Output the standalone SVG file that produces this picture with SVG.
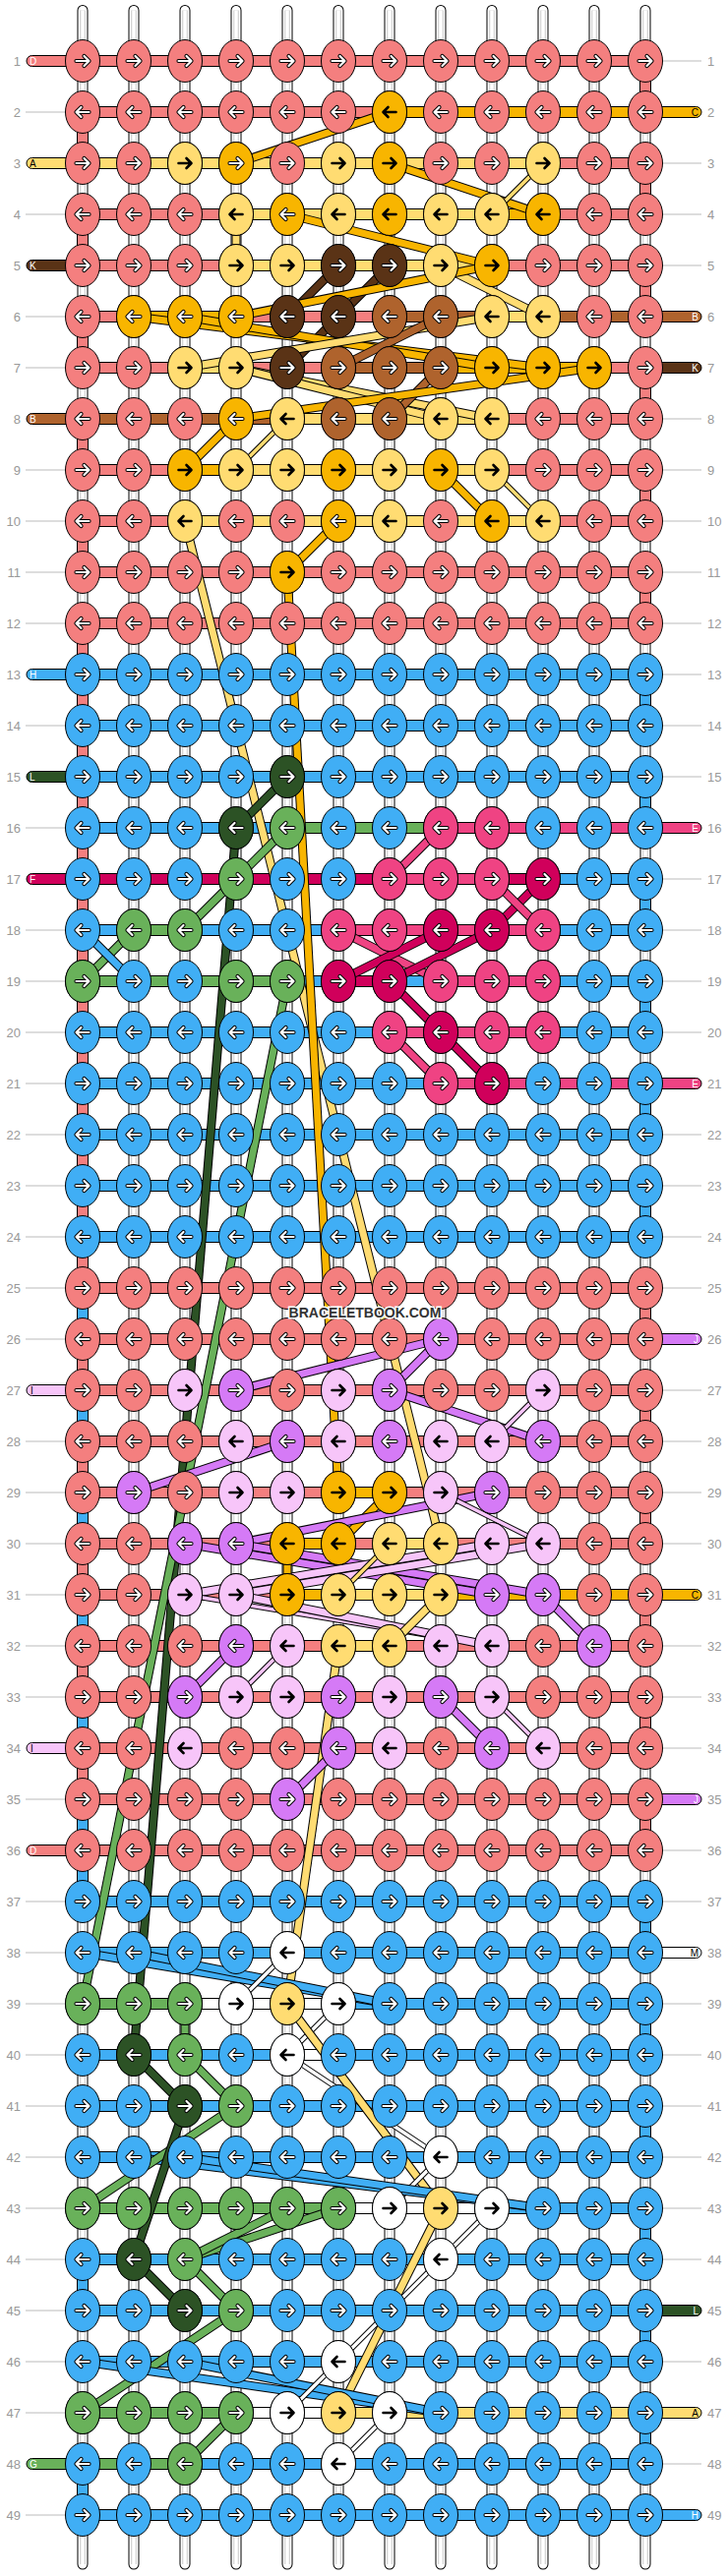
<svg xmlns="http://www.w3.org/2000/svg" width="740" height="2620" viewBox="0 0 740 2620">
<style>
.e{stroke:#000;stroke-width:1}
.P{fill:#F47F7F}.O{fill:#F8B500}.K{fill:#5A3316}.N{fill:#AF632D}.Y{fill:#FFDC72}.U{fill:#40AEF5}.G{fill:#69B15A}.D{fill:#2C5225}.H{fill:#EF4383}.F{fill:#D0005B}.V{fill:#D57AF6}.L{fill:#F7C5F9}.W{fill:#FFFFFF}
.n{font-family:"Liberation Sans",Arial,sans-serif;font-size:13px;fill:#999}
.nl{text-anchor:end}
.lb{font-family:"Liberation Sans",Arial,sans-serif;font-size:10px}
.gl{stroke:#bbb;stroke-width:1;fill:none}
.a{stroke:#000;stroke-width:9}
.b{stroke:#000;stroke-width:5.5}
.x{stroke-width:7}
.y{stroke-width:3.5}
.cO{stroke:#F8B500}.cY{stroke:#FFDC72}.cK{stroke:#5A3316}.cN{stroke:#AF632D}.cU{stroke:#40AEF5}.cG{stroke:#69B15A}.cD{stroke:#2C5225}.cH{stroke:#EF4383}.cF{stroke:#D0005B}.cV{stroke:#D57AF6}.cL{stroke:#F7C5F9}.cW{stroke:#FFFFFF}
.ar{fill:none;stroke-linecap:round;stroke-linejoin:round}
</style>
<defs>
<path id="pR" d="M-6.5,0H6M1.5,-5L6.5,0L1.5,5"/>
<path id="pL" d="M6.5,0H-6M-1.5,-5L-6.5,0L-1.5,5"/>
<g id="wR" class="ar"><use href="#pR" stroke="#000" stroke-width="4.2"/><use href="#pR" stroke="#fff" stroke-width="2.2"/></g>
<g id="wL" class="ar"><use href="#pL" stroke="#000" stroke-width="4.2"/><use href="#pL" stroke="#fff" stroke-width="2.2"/></g>
<g id="kR" class="ar"><use href="#pR" stroke="#000" stroke-width="2.6"/></g>
<g id="kL" class="ar"><use href="#pL" stroke="#000" stroke-width="2.6"/></g>
<g id="P1"><ellipse class="e P" rx="17.5" ry="21.5"/><use href="#wR"/></g>
<g id="P2"><ellipse class="e P" rx="17.5" ry="21.5"/><use href="#wL"/></g>
<g id="Q1"><ellipse class="e O" rx="17.5" ry="21.5"/><use href="#wR"/></g>
<g id="Q2"><ellipse class="e O" rx="17.5" ry="21.5"/><use href="#wL"/></g>
<g id="O1"><ellipse class="e O" rx="17.5" ry="21.5"/><use href="#kR"/></g>
<g id="O2"><ellipse class="e O" rx="17.5" ry="21.5"/><use href="#kL"/></g>
<g id="K1"><ellipse class="e K" rx="17.5" ry="21.5"/><use href="#wR"/></g>
<g id="K2"><ellipse class="e K" rx="17.5" ry="21.5"/><use href="#wL"/></g>
<g id="N1"><ellipse class="e N" rx="17.5" ry="21.5"/><use href="#wR"/></g>
<g id="N2"><ellipse class="e N" rx="17.5" ry="21.5"/><use href="#wL"/></g>
<g id="Y1"><ellipse class="e Y" rx="17.5" ry="21.5"/><use href="#kR"/></g>
<g id="Y2"><ellipse class="e Y" rx="17.5" ry="21.5"/><use href="#kL"/></g>
<g id="U1"><ellipse class="e U" rx="17.5" ry="21.5"/><use href="#wR"/></g>
<g id="U2"><ellipse class="e U" rx="17.5" ry="21.5"/><use href="#wL"/></g>
<g id="G1"><ellipse class="e G" rx="17.5" ry="21.5"/><use href="#wR"/></g>
<g id="G2"><ellipse class="e G" rx="17.5" ry="21.5"/><use href="#wL"/></g>
<g id="D1"><ellipse class="e D" rx="17.5" ry="21.5"/><use href="#wR"/></g>
<g id="D2"><ellipse class="e D" rx="17.5" ry="21.5"/><use href="#wL"/></g>
<g id="H1"><ellipse class="e H" rx="17.5" ry="21.5"/><use href="#wR"/></g>
<g id="H2"><ellipse class="e H" rx="17.5" ry="21.5"/><use href="#wL"/></g>
<g id="F1"><ellipse class="e F" rx="17.5" ry="21.5"/><use href="#wR"/></g>
<g id="F2"><ellipse class="e F" rx="17.5" ry="21.5"/><use href="#wL"/></g>
<g id="V1"><ellipse class="e V" rx="17.5" ry="21.5"/><use href="#wR"/></g>
<g id="V2"><ellipse class="e V" rx="17.5" ry="21.5"/><use href="#wL"/></g>
<g id="L1"><ellipse class="e L" rx="17.5" ry="21.5"/><use href="#kR"/></g>
<g id="L2"><ellipse class="e L" rx="17.5" ry="21.5"/><use href="#kL"/></g>
<g id="W1"><ellipse class="e W" rx="17.5" ry="21.5"/><use href="#kR"/></g>
<g id="W2"><ellipse class="e W" rx="17.5" ry="21.5"/><use href="#kL"/></g>
<g id="RP1"><use href="#P1" x="84"/><use href="#P1" x="136"/><use href="#P1" x="188"/><use href="#P1" x="240"/><use href="#P1" x="292"/><use href="#P1" x="344"/><use href="#P1" x="396"/><use href="#P1" x="448"/><use href="#P1" x="500"/><use href="#P1" x="552"/><use href="#P1" x="604"/><use href="#P1" x="656"/></g>
<g id="RP2"><use href="#P2" x="84"/><use href="#P2" x="136"/><use href="#P2" x="188"/><use href="#P2" x="240"/><use href="#P2" x="292"/><use href="#P2" x="344"/><use href="#P2" x="396"/><use href="#P2" x="448"/><use href="#P2" x="500"/><use href="#P2" x="552"/><use href="#P2" x="604"/><use href="#P2" x="656"/></g>
<g id="RU1"><use href="#U1" x="84"/><use href="#U1" x="136"/><use href="#U1" x="188"/><use href="#U1" x="240"/><use href="#U1" x="292"/><use href="#U1" x="344"/><use href="#U1" x="396"/><use href="#U1" x="448"/><use href="#U1" x="500"/><use href="#U1" x="552"/><use href="#U1" x="604"/><use href="#U1" x="656"/></g>
<g id="RU2"><use href="#U2" x="84"/><use href="#U2" x="136"/><use href="#U2" x="188"/><use href="#U2" x="240"/><use href="#U2" x="292"/><use href="#U2" x="344"/><use href="#U2" x="396"/><use href="#U2" x="448"/><use href="#U2" x="500"/><use href="#U2" x="552"/><use href="#U2" x="604"/><use href="#U2" x="656"/></g>
<rect id="bP" class="e P" x="84" y="-5.5" width="572" height="11"/>
<rect id="bU" class="e U" x="84" y="-5.5" width="572" height="11"/>
<path id="gL" class="gl" d="M26,0H66"/>
<path id="gR" class="gl" d="M674,0H713"/>
<path id="str" d="M84,10.5V2608M136,10.5V2608M188,10.5V2608M240,10.5V2608M292,10.5V2608M344,10.5V2608M396,10.5V2608M448,10.5V2608M500,10.5V2608M552,10.5V2608M604,10.5V2608M656,10.5V2608"/>
</defs>

<g id="strings" fill="none">
<use href="#str" stroke="#000" stroke-width="11" stroke-linecap="round"/>
<use href="#str" stroke="#fff" stroke-width="9" stroke-linecap="round"/>
<use href="#str" stroke="#c8c8c8" stroke-width="5.5"/>
<use href="#str" stroke="#fff" stroke-width="3.5"/>
</g>

<g id="edges" class="e">
<rect class="P" x="78.5" y="114" width="11" height="52"/>
<rect class="P" x="78.5" y="218" width="11" height="52"/>
<rect class="P" x="78.5" y="322" width="11" height="52"/>
<rect class="P" x="78.5" y="426" width="11" height="52"/>
<rect class="P" x="78.5" y="530" width="11" height="52"/>
<rect class="P" x="78.5" y="634" width="11" height="676"/>
<rect class="U" x="78.5" y="1310" width="11" height="52"/>
<rect class="P" x="78.5" y="1362" width="11" height="52"/>
<rect class="U" x="78.5" y="1414" width="11" height="52"/>
<rect class="P" x="78.5" y="1466" width="11" height="52"/>
<rect class="U" x="78.5" y="1518" width="11" height="52"/>
<rect class="P" x="78.5" y="1570" width="11" height="52"/>
<rect class="U" x="78.5" y="1622" width="11" height="52"/>
<rect class="P" x="78.5" y="1674" width="11" height="52"/>
<rect class="U" x="78.5" y="1726" width="11" height="52"/>
<rect class="P" x="78.5" y="1778" width="11" height="52"/>
<rect class="U" x="78.5" y="1830" width="11" height="104"/>
<rect class="U" x="78.5" y="2298" width="11" height="52"/>
<rect class="U" x="78.5" y="2506" width="11" height="52"/>
<rect class="P" x="650.5" y="62" width="11" height="52"/>
<rect class="P" x="650.5" y="166" width="11" height="52"/>
<rect class="P" x="650.5" y="270" width="11" height="52"/>
<rect class="P" x="650.5" y="374" width="11" height="52"/>
<rect class="P" x="650.5" y="478" width="11" height="52"/>
<rect class="P" x="650.5" y="582" width="11" height="52"/>
<rect class="U" x="650.5" y="686" width="11" height="52"/>
<rect class="U" x="650.5" y="790" width="11" height="52"/>
<rect class="U" x="650.5" y="894" width="11" height="52"/>
<rect class="U" x="650.5" y="998" width="11" height="52"/>
<rect class="U" x="650.5" y="1102" width="11" height="52"/>
<rect class="U" x="650.5" y="1206" width="11" height="52"/>
<rect class="P" x="650.5" y="1310" width="11" height="52"/>
<rect class="P" x="650.5" y="1414" width="11" height="52"/>
<rect class="P" x="650.5" y="1518" width="11" height="52"/>
<rect class="P" x="650.5" y="1622" width="11" height="52"/>
<rect class="P" x="650.5" y="1726" width="11" height="52"/>
<rect class="P" x="650.5" y="1830" width="11" height="52"/>
<rect class="U" x="650.5" y="1934" width="11" height="52"/>
<rect class="U" x="650.5" y="2038" width="11" height="52"/>
<rect class="U" x="650.5" y="2142" width="11" height="52"/>
<rect class="U" x="650.5" y="2246" width="11" height="52"/>
<rect class="U" x="650.5" y="2350" width="11" height="52"/>
<rect class="U" x="650.5" y="2454" width="11" height="52"/>
</g>

<g id="bars">
<g transform="translate(0,62)"><text class="n nl" x="21" y="4.5">1</text><text class="n" x="719" y="4.5">1</text><use href="#bP"/><rect class="e P" x="27" y="-5.5" width="60" height="11" rx="5.5"/><text class="lb" x="30" y="3.5" fill="#fff">D</text><use href="#gR"/></g>
<g transform="translate(0,114)"><text class="n nl" x="21" y="4.5">2</text><text class="n" x="719" y="4.5">2</text><use href="#bP"/><rect class="e O" x="396" y="-5.5" width="260" height="11"/><use href="#gL"/><rect class="e O" x="653" y="-5.5" width="60" height="11" rx="5.5"/><text class="lb" x="710" y="3.5" text-anchor="end">C</text></g>
<g transform="translate(0,166)"><text class="n nl" x="21" y="4.5">3</text><text class="n" x="719" y="4.5">3</text><use href="#bP"/><rect class="e Y" x="84" y="-5.5" width="468" height="11"/><rect class="e Y" x="27" y="-5.5" width="60" height="11" rx="5.5"/><text class="lb" x="30" y="3.5">A</text><use href="#gR"/></g>
<g transform="translate(0,218)"><text class="n nl" x="21" y="4.5">4</text><text class="n" x="719" y="4.5">4</text><use href="#bP"/><rect class="e Y" x="240" y="-5.5" width="260" height="11"/><rect class="e O" x="500" y="-5.5" width="52" height="11"/><use href="#gL"/><use href="#gR"/></g>
<g transform="translate(0,270)"><text class="n nl" x="21" y="4.5">5</text><text class="n" x="719" y="4.5">5</text><use href="#bP"/><rect class="e Y" x="240" y="-5.5" width="260" height="11"/><rect class="e K" x="27" y="-5.5" width="60" height="11" rx="5.5"/><text class="lb" x="30" y="3.5" fill="#fff">K</text><use href="#gR"/></g>
<g transform="translate(0,322)"><text class="n nl" x="21" y="4.5">6</text><text class="n" x="719" y="4.5">6</text><use href="#bP"/><rect class="e O" x="136" y="-5.5" width="104" height="11"/><rect class="e N" x="396" y="-5.5" width="104" height="11"/><rect class="e Y" x="500" y="-5.5" width="52" height="11"/><rect class="e N" x="552" y="-5.5" width="104" height="11"/><use href="#gL"/><rect class="e N" x="653" y="-5.5" width="60" height="11" rx="5.5"/><text class="lb" x="710" y="3.5" text-anchor="end" fill="#fff">B</text></g>
<g transform="translate(0,374)"><text class="n nl" x="21" y="4.5">7</text><text class="n" x="719" y="4.5">7</text><use href="#bP"/><rect class="e Y" x="188" y="-5.5" width="52" height="11"/><rect class="e N" x="344" y="-5.5" width="104" height="11"/><rect class="e O" x="448" y="-5.5" width="156" height="11"/><use href="#gL"/><rect class="e K" x="653" y="-5.5" width="60" height="11" rx="5.5"/><text class="lb" x="710" y="3.5" text-anchor="end" fill="#fff">K</text></g>
<g transform="translate(0,426)"><text class="n nl" x="21" y="4.5">8</text><text class="n" x="719" y="4.5">8</text><use href="#bP"/><rect class="e N" x="84" y="-5.5" width="208" height="11"/><rect class="e Y" x="292" y="-5.5" width="208" height="11"/><rect class="e N" x="27" y="-5.5" width="60" height="11" rx="5.5"/><text class="lb" x="30" y="3.5" fill="#fff">B</text><use href="#gR"/></g>
<g transform="translate(0,478)"><text class="n nl" x="21" y="4.5">9</text><text class="n" x="719" y="4.5">9</text><use href="#bP"/><rect class="e O" x="188" y="-5.5" width="52" height="11"/><rect class="e Y" x="240" y="-5.5" width="260" height="11"/><use href="#gL"/><use href="#gR"/></g>
<g transform="translate(0,530)"><text class="n nl" x="21" y="4.5">10</text><text class="n" x="719" y="4.5">10</text><use href="#bP"/><rect class="e Y" x="188" y="-5.5" width="364" height="11"/><use href="#gL"/><use href="#gR"/></g>
<g transform="translate(0,582)"><text class="n nl" x="21" y="4.5">11</text><text class="n" x="719" y="4.5">11</text><use href="#bP"/><use href="#gL"/><use href="#gR"/></g>
<g transform="translate(0,634)"><text class="n nl" x="21" y="4.5">12</text><text class="n" x="719" y="4.5">12</text><use href="#bP"/><use href="#gL"/><use href="#gR"/></g>
<g transform="translate(0,686)"><text class="n nl" x="21" y="4.5">13</text><text class="n" x="719" y="4.5">13</text><use href="#bU"/><rect class="e U" x="27" y="-5.5" width="60" height="11" rx="5.5"/><text class="lb" x="30" y="3.5" fill="#fff">H</text><use href="#gR"/></g>
<g transform="translate(0,738)"><text class="n nl" x="21" y="4.5">14</text><text class="n" x="719" y="4.5">14</text><use href="#bU"/><use href="#gL"/><use href="#gR"/></g>
<g transform="translate(0,790)"><text class="n nl" x="21" y="4.5">15</text><text class="n" x="719" y="4.5">15</text><use href="#bU"/><rect class="e D" x="27" y="-5.5" width="60" height="11" rx="5.5"/><text class="lb" x="30" y="3.5" fill="#fff">L</text><use href="#gR"/></g>
<g transform="translate(0,842)"><text class="n nl" x="21" y="4.5">16</text><text class="n" x="719" y="4.5">16</text><use href="#bU"/><rect class="e G" x="292" y="-5.5" width="156" height="11"/><rect class="e H" x="448" y="-5.5" width="208" height="11"/><use href="#gL"/><rect class="e H" x="653" y="-5.5" width="60" height="11" rx="5.5"/><text class="lb" x="710" y="3.5" text-anchor="end" fill="#fff">E</text></g>
<g transform="translate(0,894)"><text class="n nl" x="21" y="4.5">17</text><text class="n" x="719" y="4.5">17</text><use href="#bU"/><rect class="e F" x="84" y="-5.5" width="312" height="11"/><rect class="e H" x="396" y="-5.5" width="104" height="11"/><rect class="e F" x="500" y="-5.5" width="52" height="11"/><rect class="e F" x="27" y="-5.5" width="60" height="11" rx="5.5"/><text class="lb" x="30" y="3.5" fill="#fff">F</text><use href="#gR"/></g>
<g transform="translate(0,946)"><text class="n nl" x="21" y="4.5">18</text><text class="n" x="719" y="4.5">18</text><use href="#bU"/><rect class="e G" x="136" y="-5.5" width="52" height="11"/><rect class="e H" x="344" y="-5.5" width="208" height="11"/><use href="#gL"/><use href="#gR"/></g>
<g transform="translate(0,998)"><text class="n nl" x="21" y="4.5">19</text><text class="n" x="719" y="4.5">19</text><use href="#bU"/><rect class="e G" x="84" y="-5.5" width="208" height="11"/><rect class="e F" x="344" y="-5.5" width="52" height="11"/><rect class="e H" x="448" y="-5.5" width="104" height="11"/><use href="#gL"/><use href="#gR"/></g>
<g transform="translate(0,1050)"><text class="n nl" x="21" y="4.5">20</text><text class="n" x="719" y="4.5">20</text><use href="#bU"/><rect class="e H" x="396" y="-5.5" width="156" height="11"/><use href="#gL"/><use href="#gR"/></g>
<g transform="translate(0,1102)"><text class="n nl" x="21" y="4.5">21</text><text class="n" x="719" y="4.5">21</text><use href="#bU"/><rect class="e H" x="448" y="-5.5" width="208" height="11"/><use href="#gL"/><rect class="e H" x="653" y="-5.5" width="60" height="11" rx="5.5"/><text class="lb" x="710" y="3.5" text-anchor="end" fill="#fff">E</text></g>
<g transform="translate(0,1154)"><text class="n nl" x="21" y="4.5">22</text><text class="n" x="719" y="4.5">22</text><use href="#bU"/><use href="#gL"/><use href="#gR"/></g>
<g transform="translate(0,1206)"><text class="n nl" x="21" y="4.5">23</text><text class="n" x="719" y="4.5">23</text><use href="#bU"/><use href="#gL"/><use href="#gR"/></g>
<g transform="translate(0,1258)"><text class="n nl" x="21" y="4.5">24</text><text class="n" x="719" y="4.5">24</text><use href="#bU"/><use href="#gL"/><use href="#gR"/></g>
<g transform="translate(0,1310)"><text class="n nl" x="21" y="4.5">25</text><text class="n" x="719" y="4.5">25</text><use href="#bP"/><use href="#gL"/><use href="#gR"/></g>
<g transform="translate(0,1362)"><text class="n nl" x="21" y="4.5">26</text><text class="n" x="719" y="4.5">26</text><use href="#bP"/><use href="#gL"/><rect class="e V" x="653" y="-5.5" width="60" height="11" rx="5.5"/><text class="lb" x="710" y="3.5" text-anchor="end" fill="#fff">J</text></g>
<g transform="translate(0,1414)"><text class="n nl" x="21" y="4.5">27</text><text class="n" x="719" y="4.5">27</text><use href="#bP"/><rect class="e L" x="27" y="-5.5" width="60" height="11" rx="5.5"/><text class="lb" x="31" y="3.5">I</text><use href="#gR"/></g>
<g transform="translate(0,1466)"><text class="n nl" x="21" y="4.5">28</text><text class="n" x="719" y="4.5">28</text><use href="#bP"/><use href="#gL"/><use href="#gR"/></g>
<g transform="translate(0,1518)"><text class="n nl" x="21" y="4.5">29</text><text class="n" x="719" y="4.5">29</text><use href="#bP"/><rect class="e O" x="344" y="-5.5" width="52" height="11"/><use href="#gL"/><use href="#gR"/></g>
<g transform="translate(0,1570)"><text class="n nl" x="21" y="4.5">30</text><text class="n" x="719" y="4.5">30</text><use href="#bP"/><rect class="e O" x="292" y="-5.5" width="52" height="11"/><rect class="e Y" x="396" y="-5.5" width="52" height="11"/><use href="#gL"/><use href="#gR"/></g>
<g transform="translate(0,1622)"><text class="n nl" x="21" y="4.5">31</text><text class="n" x="719" y="4.5">31</text><use href="#bP"/><rect class="e O" x="292" y="-5.5" width="52" height="11"/><rect class="e Y" x="344" y="-5.5" width="104" height="11"/><rect class="e O" x="448" y="-5.5" width="208" height="11"/><use href="#gL"/><rect class="e O" x="653" y="-5.5" width="60" height="11" rx="5.5"/><text class="lb" x="710" y="3.5" text-anchor="end">C</text></g>
<g transform="translate(0,1674)"><text class="n nl" x="21" y="4.5">32</text><text class="n" x="719" y="4.5">32</text><use href="#bP"/><rect class="e Y" x="344" y="-5.5" width="52" height="11"/><use href="#gL"/><use href="#gR"/></g>
<g transform="translate(0,1726)"><text class="n nl" x="21" y="4.5">33</text><text class="n" x="719" y="4.5">33</text><use href="#bP"/><use href="#gL"/><use href="#gR"/></g>
<g transform="translate(0,1778)"><text class="n nl" x="21" y="4.5">34</text><text class="n" x="719" y="4.5">34</text><use href="#bP"/><rect class="e L" x="27" y="-5.5" width="60" height="11" rx="5.5"/><text class="lb" x="31" y="3.5">I</text><use href="#gR"/></g>
<g transform="translate(0,1830)"><text class="n nl" x="21" y="4.5">35</text><text class="n" x="719" y="4.5">35</text><use href="#bP"/><use href="#gL"/><rect class="e V" x="653" y="-5.5" width="60" height="11" rx="5.5"/><text class="lb" x="710" y="3.5" text-anchor="end" fill="#fff">J</text></g>
<g transform="translate(0,1882)"><text class="n nl" x="21" y="4.5">36</text><text class="n" x="719" y="4.5">36</text><use href="#bP"/><rect class="e P" x="27" y="-5.5" width="60" height="11" rx="5.5"/><text class="lb" x="30" y="3.5" fill="#fff">D</text><use href="#gR"/></g>
<g transform="translate(0,1934)"><text class="n nl" x="21" y="4.5">37</text><text class="n" x="719" y="4.5">37</text><use href="#bU"/><use href="#gL"/><use href="#gR"/></g>
<g transform="translate(0,1986)"><text class="n nl" x="21" y="4.5">38</text><text class="n" x="719" y="4.5">38</text><use href="#bU"/><use href="#gL"/><rect class="e W" x="653" y="-5.5" width="60" height="11" rx="5.5"/><text class="lb" x="710" y="3.5" text-anchor="end">M</text></g>
<g transform="translate(0,2038)"><text class="n nl" x="21" y="4.5">39</text><text class="n" x="719" y="4.5">39</text><use href="#bU"/><rect class="e G" x="84" y="-5.5" width="104" height="11"/><rect class="e W" x="188" y="-5.5" width="156" height="11"/><use href="#gL"/><use href="#gR"/></g>
<g transform="translate(0,2090)"><text class="n nl" x="21" y="4.5">40</text><text class="n" x="719" y="4.5">40</text><use href="#bU"/><rect class="e W" x="292" y="-5.5" width="52" height="11"/><use href="#gL"/><use href="#gR"/></g>
<g transform="translate(0,2142)"><text class="n nl" x="21" y="4.5">41</text><text class="n" x="719" y="4.5">41</text><use href="#bU"/><use href="#gL"/><use href="#gR"/></g>
<g transform="translate(0,2194)"><text class="n nl" x="21" y="4.5">42</text><text class="n" x="719" y="4.5">42</text><use href="#bU"/><use href="#gL"/><use href="#gR"/></g>
<g transform="translate(0,2246)"><text class="n nl" x="21" y="4.5">43</text><text class="n" x="719" y="4.5">43</text><use href="#bU"/><rect class="e G" x="84" y="-5.5" width="260" height="11"/><rect class="e W" x="344" y="-5.5" width="156" height="11"/><use href="#gL"/><use href="#gR"/></g>
<g transform="translate(0,2298)"><text class="n nl" x="21" y="4.5">44</text><text class="n" x="719" y="4.5">44</text><use href="#bU"/><use href="#gL"/><use href="#gR"/></g>
<g transform="translate(0,2350)"><text class="n nl" x="21" y="4.5">45</text><text class="n" x="719" y="4.5">45</text><use href="#bU"/><use href="#gL"/><rect class="e D" x="653" y="-5.5" width="60" height="11" rx="5.5"/><text class="lb" x="710" y="3.5" text-anchor="end" fill="#fff">L</text></g>
<g transform="translate(0,2402)"><text class="n nl" x="21" y="4.5">46</text><text class="n" x="719" y="4.5">46</text><use href="#bU"/><use href="#gL"/><use href="#gR"/></g>
<g transform="translate(0,2454)"><text class="n nl" x="21" y="4.5">47</text><text class="n" x="719" y="4.5">47</text><use href="#bU"/><rect class="e G" x="84" y="-5.5" width="156" height="11"/><rect class="e W" x="240" y="-5.5" width="104" height="11"/><rect class="e Y" x="344" y="-5.5" width="312" height="11"/><use href="#gL"/><rect class="e Y" x="653" y="-5.5" width="60" height="11" rx="5.5"/><text class="lb" x="710" y="3.5" text-anchor="end">A</text></g>
<g transform="translate(0,2506)"><text class="n nl" x="21" y="4.5">48</text><text class="n" x="719" y="4.5">48</text><use href="#bU"/><rect class="e G" x="84" y="-5.5" width="104" height="11"/><rect class="e G" x="27" y="-5.5" width="60" height="11" rx="5.5"/><text class="lb" x="30" y="3.5" fill="#fff">G</text><use href="#gR"/></g>
<g transform="translate(0,2558)"><text class="n nl" x="21" y="4.5">49</text><text class="n" x="719" y="4.5">49</text><use href="#bU"/><use href="#gL"/><rect class="e U" x="653" y="-5.5" width="60" height="11" rx="5.5"/><text class="lb" x="710" y="3.5" text-anchor="end" fill="#fff">H</text></g>
</g>

<g id="connectors">
<line class="a" x1="396" y1="114" x2="240" y2="166"/><line class="x cO" x1="396" y1="114" x2="240" y2="166"/>
<line class="a" x1="396" y1="166" x2="552" y2="218"/><line class="x cO" x1="396" y1="166" x2="552" y2="218"/>
<line class="b" x1="552" y1="166" x2="500" y2="218"/><line class="y cY" x1="552" y1="166" x2="500" y2="218"/>
<line class="a" x1="292" y1="218" x2="500" y2="270"/><line class="x cO" x1="292" y1="218" x2="500" y2="270"/>
<line class="a" x1="240" y1="218" x2="240" y2="270"/><line class="x cY" x1="240" y1="218" x2="240" y2="270"/>
<line class="a" x1="448" y1="270" x2="552" y2="322"/><line class="x cY" x1="448" y1="270" x2="552" y2="322"/>
<line class="a" x1="396" y1="270" x2="344" y2="322"/><line class="x cK" x1="396" y1="270" x2="344" y2="322"/>
<line class="a" x1="344" y1="270" x2="292" y2="322"/><line class="x cK" x1="344" y1="270" x2="292" y2="322"/>
<line class="a" x1="344" y1="322" x2="292" y2="374"/><line class="x cK" x1="344" y1="322" x2="292" y2="374"/>
<line class="a" x1="240" y1="322" x2="500" y2="270"/><line class="x cO" x1="240" y1="322" x2="500" y2="270"/>
<line class="a" x1="136" y1="322" x2="552" y2="374"/><line class="x cO" x1="136" y1="322" x2="552" y2="374"/>
<line class="a" x1="188" y1="322" x2="500" y2="374"/><line class="x cO" x1="188" y1="322" x2="500" y2="374"/>
<line class="a" x1="188" y1="374" x2="500" y2="322"/><line class="x cY" x1="188" y1="374" x2="500" y2="322"/>
<line class="a" x1="240" y1="374" x2="500" y2="426"/><line class="x cY" x1="240" y1="374" x2="500" y2="426"/>
<line class="a" x1="240" y1="374" x2="448" y2="426"/><line class="x cY" x1="240" y1="374" x2="448" y2="426"/>
<line class="a" x1="344" y1="374" x2="448" y2="322"/><line class="x cN" x1="344" y1="374" x2="448" y2="322"/>
<line class="a" x1="448" y1="374" x2="396" y2="426"/><line class="x cN" x1="448" y1="374" x2="396" y2="426"/>
<line class="a" x1="240" y1="426" x2="604" y2="374"/><line class="x cO" x1="240" y1="426" x2="604" y2="374"/>
<line class="a" x1="188" y1="478" x2="240" y2="426"/><line class="x cO" x1="188" y1="478" x2="240" y2="426"/>
<line class="b" x1="240" y1="478" x2="292" y2="426"/><line class="y cY" x1="240" y1="478" x2="292" y2="426"/>
<line class="a" x1="448" y1="478" x2="500" y2="530"/><line class="x cO" x1="448" y1="478" x2="500" y2="530"/>
<line class="b" x1="500" y1="478" x2="552" y2="530"/><line class="y cY" x1="500" y1="478" x2="552" y2="530"/>
<line class="a" x1="344" y1="530" x2="292" y2="582"/><line class="x cO" x1="344" y1="530" x2="292" y2="582"/>
<line class="a" x1="188" y1="530" x2="448" y2="1570"/><line class="x cY" x1="188" y1="530" x2="448" y2="1570"/>
<line class="a" x1="292" y1="582" x2="344" y2="1518"/><line class="x cO" x1="292" y1="582" x2="344" y2="1518"/>
<line class="a" x1="292" y1="790" x2="240" y2="842"/><line class="x cD" x1="292" y1="790" x2="240" y2="842"/>
<line class="a" x1="240" y1="842" x2="136" y2="2090"/><line class="x cD" x1="240" y1="842" x2="136" y2="2090"/>
<line class="a" x1="292" y1="842" x2="240" y2="894"/><line class="x cG" x1="292" y1="842" x2="240" y2="894"/>
<line class="a" x1="240" y1="894" x2="188" y2="946"/><line class="x cG" x1="240" y1="894" x2="188" y2="946"/>
<line class="a" x1="136" y1="946" x2="84" y2="998"/><line class="x cG" x1="136" y1="946" x2="84" y2="998"/>
<line class="a" x1="84" y1="946" x2="136" y2="998"/><line class="x cU" x1="84" y1="946" x2="136" y2="998"/>
<line class="a" x1="292" y1="998" x2="84" y2="2038"/><line class="x cG" x1="292" y1="998" x2="84" y2="2038"/>
<line class="a" x1="396" y1="894" x2="448" y2="842"/><line class="x cH" x1="396" y1="894" x2="448" y2="842"/>
<line class="a" x1="552" y1="894" x2="500" y2="946"/><line class="x cF" x1="552" y1="894" x2="500" y2="946"/>
<line class="a" x1="500" y1="894" x2="552" y2="946"/><line class="x cH" x1="500" y1="894" x2="552" y2="946"/>
<line class="a" x1="344" y1="946" x2="448" y2="998"/><line class="x cH" x1="344" y1="946" x2="448" y2="998"/>
<line class="a" x1="344" y1="998" x2="448" y2="946"/><line class="x cF" x1="344" y1="998" x2="448" y2="946"/>
<line class="a" x1="396" y1="998" x2="500" y2="946"/><line class="x cF" x1="396" y1="998" x2="500" y2="946"/>
<line class="a" x1="396" y1="998" x2="448" y2="1050"/><line class="x cF" x1="396" y1="998" x2="448" y2="1050"/>
<line class="a" x1="448" y1="1050" x2="500" y2="1102"/><line class="x cF" x1="448" y1="1050" x2="500" y2="1102"/>
<line class="a" x1="396" y1="1050" x2="448" y2="1102"/><line class="x cH" x1="396" y1="1050" x2="448" y2="1102"/>
<line class="a" x1="240" y1="1414" x2="448" y2="1362"/><line class="x cV" x1="240" y1="1414" x2="448" y2="1362"/>
<line class="a" x1="396" y1="1414" x2="448" y2="1362"/><line class="x cV" x1="396" y1="1414" x2="448" y2="1362"/>
<line class="a" x1="396" y1="1414" x2="552" y2="1466"/><line class="x cV" x1="396" y1="1414" x2="552" y2="1466"/>
<line class="b" x1="552" y1="1414" x2="500" y2="1466"/><line class="y cL" x1="552" y1="1414" x2="500" y2="1466"/>
<line class="a" x1="292" y1="1466" x2="136" y2="1518"/><line class="x cV" x1="292" y1="1466" x2="136" y2="1518"/>
<line class="a" x1="396" y1="1518" x2="344" y2="1570"/><line class="x cO" x1="396" y1="1518" x2="344" y2="1570"/>
<line class="a" x1="240" y1="1570" x2="500" y2="1518"/><line class="x cV" x1="240" y1="1570" x2="500" y2="1518"/>
<line class="b" x1="448" y1="1518" x2="552" y2="1570"/><line class="y cL" x1="448" y1="1518" x2="552" y2="1570"/>
<line class="a" x1="188" y1="1570" x2="500" y2="1622"/><line class="x cV" x1="188" y1="1570" x2="500" y2="1622"/>
<line class="a" x1="240" y1="1570" x2="552" y2="1622"/><line class="x cV" x1="240" y1="1570" x2="552" y2="1622"/>
<line class="a" x1="500" y1="1570" x2="188" y2="1622"/><line class="x cL" x1="500" y1="1570" x2="188" y2="1622"/>
<line class="a" x1="552" y1="1570" x2="240" y2="1622"/><line class="x cL" x1="552" y1="1570" x2="240" y2="1622"/>
<line class="b" x1="396" y1="1570" x2="344" y2="1622"/><line class="y cY" x1="396" y1="1570" x2="344" y2="1622"/>
<line class="a" x1="292" y1="1570" x2="292" y2="1622"/><line class="x cO" x1="292" y1="1570" x2="292" y2="1622"/>
<line class="b" x1="188" y1="1622" x2="500" y2="1674"/><line class="y cL" x1="188" y1="1622" x2="500" y2="1674"/>
<line class="a" x1="240" y1="1622" x2="500" y2="1674"/><line class="x cL" x1="240" y1="1622" x2="500" y2="1674"/>
<line class="a" x1="552" y1="1622" x2="604" y2="1674"/><line class="x cV" x1="552" y1="1622" x2="604" y2="1674"/>
<line class="a" x1="448" y1="1622" x2="396" y2="1674"/><line class="x cY" x1="448" y1="1622" x2="396" y2="1674"/>
<line class="a" x1="344" y1="1674" x2="292" y2="2038"/><line class="x cY" x1="344" y1="1674" x2="292" y2="2038"/>
<line class="a" x1="240" y1="1674" x2="188" y2="1726"/><line class="x cV" x1="240" y1="1674" x2="188" y2="1726"/>
<line class="b" x1="292" y1="1674" x2="240" y2="1726"/><line class="y cL" x1="292" y1="1674" x2="240" y2="1726"/>
<line class="a" x1="448" y1="1726" x2="500" y2="1778"/><line class="x cV" x1="448" y1="1726" x2="500" y2="1778"/>
<line class="b" x1="500" y1="1726" x2="552" y2="1778"/><line class="y cL" x1="500" y1="1726" x2="552" y2="1778"/>
<line class="a" x1="292" y1="1830" x2="344" y2="1778"/><line class="x cV" x1="292" y1="1830" x2="344" y2="1778"/>
<line class="a" x1="84" y1="1986" x2="396" y2="2038"/><line class="x cU" x1="84" y1="1986" x2="396" y2="2038"/>
<line class="a" x1="136" y1="1986" x2="396" y2="2038"/><line class="x cU" x1="136" y1="1986" x2="396" y2="2038"/>
<line class="b" x1="292" y1="1986" x2="240" y2="2038"/><line class="y cW" x1="292" y1="1986" x2="240" y2="2038"/>
<line class="b" x1="344" y1="2038" x2="292" y2="2090"/><line class="y cW" x1="344" y1="2038" x2="292" y2="2090"/>
<line class="a" x1="188" y1="2038" x2="188" y2="2090"/><line class="x cG" x1="188" y1="2038" x2="188" y2="2090"/>
<line class="b" x1="292" y1="2090" x2="448" y2="2194"/><line class="y cW" x1="292" y1="2090" x2="448" y2="2194"/>
<line class="a" x1="292" y1="2038" x2="448" y2="2246"/><line class="x cY" x1="292" y1="2038" x2="448" y2="2246"/>
<line class="b" x1="448" y1="2194" x2="396" y2="2246"/><line class="y cW" x1="448" y1="2194" x2="396" y2="2246"/>
<line class="b" x1="500" y1="2246" x2="448" y2="2298"/><line class="y cW" x1="500" y1="2246" x2="448" y2="2298"/>
<line class="a" x1="136" y1="2194" x2="552" y2="2246"/><line class="x cU" x1="136" y1="2194" x2="552" y2="2246"/>
<line class="a" x1="188" y1="2194" x2="552" y2="2246"/><line class="x cU" x1="188" y1="2194" x2="552" y2="2246"/>
<line class="a" x1="188" y1="2090" x2="240" y2="2142"/><line class="x cG" x1="188" y1="2090" x2="240" y2="2142"/>
<line class="a" x1="136" y1="2090" x2="188" y2="2142"/><line class="x cD" x1="136" y1="2090" x2="188" y2="2142"/>
<line class="a" x1="84" y1="2246" x2="240" y2="2142"/><line class="x cG" x1="84" y1="2246" x2="240" y2="2142"/>
<line class="a" x1="188" y1="2142" x2="136" y2="2298"/><line class="x cD" x1="188" y1="2142" x2="136" y2="2298"/>
<line class="a" x1="344" y1="2246" x2="188" y2="2298"/><line class="x cG" x1="344" y1="2246" x2="188" y2="2298"/>
<line class="a" x1="292" y1="2246" x2="188" y2="2298"/><line class="x cG" x1="292" y1="2246" x2="188" y2="2298"/>
<line class="a" x1="136" y1="2298" x2="188" y2="2350"/><line class="x cD" x1="136" y1="2298" x2="188" y2="2350"/>
<line class="a" x1="188" y1="2298" x2="240" y2="2350"/><line class="x cG" x1="188" y1="2298" x2="240" y2="2350"/>
<line class="a" x1="448" y1="2246" x2="344" y2="2454"/><line class="x cY" x1="448" y1="2246" x2="344" y2="2454"/>
<line class="b" x1="448" y1="2298" x2="344" y2="2402"/><line class="y cW" x1="448" y1="2298" x2="344" y2="2402"/>
<line class="a" x1="240" y1="2350" x2="84" y2="2454"/><line class="x cG" x1="240" y1="2350" x2="84" y2="2454"/>
<line class="a" x1="84" y1="2402" x2="448" y2="2454"/><line class="x cU" x1="84" y1="2402" x2="448" y2="2454"/>
<line class="a" x1="188" y1="2402" x2="448" y2="2454"/><line class="x cU" x1="188" y1="2402" x2="448" y2="2454"/>
<line class="b" x1="344" y1="2402" x2="292" y2="2454"/><line class="y cW" x1="344" y1="2402" x2="292" y2="2454"/>
<line class="b" x1="396" y1="2454" x2="344" y2="2506"/><line class="y cW" x1="396" y1="2454" x2="344" y2="2506"/>
<line class="a" x1="240" y1="2454" x2="188" y2="2506"/><line class="x cG" x1="240" y1="2454" x2="188" y2="2506"/>
</g>

<g id="knots">
<g id="row-1" transform="translate(0,62)"><use href="#RP1"/></g>
<g id="row-2" transform="translate(0,114)"><use href="#RP2"/><use href="#O2" x="396"/></g>
<g id="row-3" transform="translate(0,166)"><use href="#RP1"/><use href="#Y1" x="188"/><use href="#Q1" x="240"/><use href="#Y1" x="344"/><use href="#O1" x="396"/><use href="#Y1" x="552"/></g>
<g id="row-4" transform="translate(0,218)"><use href="#RP2"/><use href="#Y2" x="240"/><use href="#Q2" x="292"/><use href="#Y2" x="344"/><use href="#O2" x="396"/><use href="#Y2" x="448"/><use href="#Y2" x="500"/><use href="#O2" x="552"/></g>
<g id="row-5" transform="translate(0,270)"><use href="#RP1"/><use href="#Y1" x="240"/><use href="#Y1" x="292"/><use href="#K1" x="344"/><use href="#K1" x="396"/><use href="#Y1" x="448"/><use href="#O1" x="500"/></g>
<g id="row-6" transform="translate(0,322)"><use href="#RP2"/><use href="#Q2" x="136"/><use href="#Q2" x="188"/><use href="#Q2" x="240"/><use href="#K2" x="292"/><use href="#K2" x="344"/><use href="#N2" x="396"/><use href="#N2" x="448"/><use href="#Y2" x="500"/><use href="#Y2" x="552"/></g>
<g id="row-7" transform="translate(0,374)"><use href="#RP1"/><use href="#Y1" x="188"/><use href="#Y1" x="240"/><use href="#K1" x="292"/><use href="#N1" x="344"/><use href="#N1" x="396"/><use href="#N1" x="448"/><use href="#O1" x="500"/><use href="#O1" x="552"/><use href="#O1" x="604"/></g>
<g id="row-8" transform="translate(0,426)"><use href="#RP2"/><use href="#Q2" x="240"/><use href="#Y2" x="292"/><use href="#N2" x="344"/><use href="#N2" x="396"/><use href="#Y2" x="448"/><use href="#Y2" x="500"/></g>
<g id="row-9" transform="translate(0,478)"><use href="#RP1"/><use href="#O1" x="188"/><use href="#Y1" x="240"/><use href="#Y1" x="292"/><use href="#O1" x="344"/><use href="#Y1" x="396"/><use href="#O1" x="448"/><use href="#Y1" x="500"/></g>
<g id="row-10" transform="translate(0,530)"><use href="#RP2"/><use href="#Y2" x="188"/><use href="#Q2" x="344"/><use href="#Y2" x="396"/><use href="#O2" x="500"/><use href="#Y2" x="552"/></g>
<g id="row-11" transform="translate(0,582)"><use href="#RP1"/><use href="#O1" x="292"/></g>
<g id="row-12" transform="translate(0,634)"><use href="#RP2"/></g>
<g id="row-13" transform="translate(0,686)"><use href="#RU1"/></g>
<g id="row-14" transform="translate(0,738)"><use href="#RU2"/></g>
<g id="row-15" transform="translate(0,790)"><use href="#RU1"/><use href="#D1" x="292"/></g>
<g id="row-16" transform="translate(0,842)"><use href="#RU2"/><use href="#D2" x="240"/><use href="#G2" x="292"/><use href="#H2" x="448"/><use href="#H2" x="500"/></g>
<g id="row-17" transform="translate(0,894)"><use href="#RU1"/><use href="#G1" x="240"/><use href="#H1" x="396"/><use href="#H1" x="448"/><use href="#H1" x="500"/><use href="#F1" x="552"/></g>
<g id="row-18" transform="translate(0,946)"><use href="#RU2"/><use href="#G2" x="136"/><use href="#G2" x="188"/><use href="#H2" x="344"/><use href="#H2" x="396"/><use href="#F2" x="448"/><use href="#F2" x="500"/><use href="#H2" x="552"/></g>
<g id="row-19" transform="translate(0,998)"><use href="#RU1"/><use href="#G1" x="84"/><use href="#G1" x="240"/><use href="#G1" x="292"/><use href="#F1" x="344"/><use href="#F1" x="396"/><use href="#H1" x="448"/><use href="#H1" x="500"/><use href="#H1" x="552"/></g>
<g id="row-20" transform="translate(0,1050)"><use href="#RU2"/><use href="#H2" x="396"/><use href="#F2" x="448"/><use href="#H2" x="500"/><use href="#H2" x="552"/></g>
<g id="row-21" transform="translate(0,1102)"><use href="#RU1"/><use href="#H1" x="448"/><use href="#F1" x="500"/></g>
<g id="row-22" transform="translate(0,1154)"><use href="#RU2"/></g>
<g id="row-23" transform="translate(0,1206)"><use href="#RU1"/></g>
<g id="row-24" transform="translate(0,1258)"><use href="#RU2"/></g>
<g id="row-25" transform="translate(0,1310)"><use href="#RP1"/></g>
<g id="row-26" transform="translate(0,1362)"><use href="#RP2"/><use href="#V2" x="448"/></g>
<g id="row-27" transform="translate(0,1414)"><use href="#RP1"/><use href="#L1" x="188"/><use href="#V1" x="240"/><use href="#L1" x="344"/><use href="#V1" x="396"/><use href="#L1" x="552"/></g>
<g id="row-28" transform="translate(0,1466)"><use href="#RP2"/><use href="#L2" x="240"/><use href="#V2" x="292"/><use href="#L2" x="344"/><use href="#V2" x="396"/><use href="#L2" x="448"/><use href="#L2" x="500"/><use href="#V2" x="552"/></g>
<g id="row-29" transform="translate(0,1518)"><use href="#RP1"/><use href="#V1" x="136"/><use href="#L1" x="240"/><use href="#L1" x="292"/><use href="#O1" x="344"/><use href="#O1" x="396"/><use href="#L1" x="448"/><use href="#V1" x="500"/></g>
<g id="row-30" transform="translate(0,1570)"><use href="#RP2"/><use href="#V2" x="188"/><use href="#V2" x="240"/><use href="#O2" x="292"/><use href="#O2" x="344"/><use href="#Y2" x="396"/><use href="#Y2" x="448"/><use href="#L2" x="500"/><use href="#L2" x="552"/></g>
<g id="row-31" transform="translate(0,1622)"><use href="#RP1"/><use href="#L1" x="188"/><use href="#L1" x="240"/><use href="#O1" x="292"/><use href="#Y1" x="344"/><use href="#Y1" x="396"/><use href="#Y1" x="448"/><use href="#V1" x="500"/><use href="#V1" x="552"/></g>
<g id="row-32" transform="translate(0,1674)"><use href="#RP2"/><use href="#V2" x="240"/><use href="#L2" x="292"/><use href="#Y2" x="344"/><use href="#Y2" x="396"/><use href="#L2" x="448"/><use href="#L2" x="500"/><use href="#V2" x="604"/></g>
<g id="row-33" transform="translate(0,1726)"><use href="#RP1"/><use href="#V1" x="188"/><use href="#L1" x="240"/><use href="#L1" x="292"/><use href="#V1" x="344"/><use href="#L1" x="396"/><use href="#V1" x="448"/><use href="#L1" x="500"/></g>
<g id="row-34" transform="translate(0,1778)"><use href="#RP2"/><use href="#L2" x="188"/><use href="#V2" x="344"/><use href="#L2" x="396"/><use href="#V2" x="500"/><use href="#L2" x="552"/></g>
<g id="row-35" transform="translate(0,1830)"><use href="#RP1"/><use href="#V1" x="292"/></g>
<g id="row-36" transform="translate(0,1882)"><use href="#RP2"/></g>
<g id="row-37" transform="translate(0,1934)"><use href="#RU1"/></g>
<g id="row-38" transform="translate(0,1986)"><use href="#RU2"/><use href="#W2" x="292"/></g>
<g id="row-39" transform="translate(0,2038)"><use href="#RU1"/><use href="#G1" x="84"/><use href="#G1" x="136"/><use href="#G1" x="188"/><use href="#W1" x="240"/><use href="#Y1" x="292"/><use href="#W1" x="344"/></g>
<g id="row-40" transform="translate(0,2090)"><use href="#RU2"/><use href="#D2" x="136"/><use href="#G2" x="188"/><use href="#W2" x="292"/></g>
<g id="row-41" transform="translate(0,2142)"><use href="#RU1"/><use href="#D1" x="188"/><use href="#G1" x="240"/></g>
<g id="row-42" transform="translate(0,2194)"><use href="#RU2"/><use href="#W2" x="448"/></g>
<g id="row-43" transform="translate(0,2246)"><use href="#RU1"/><use href="#G1" x="84"/><use href="#G1" x="136"/><use href="#G1" x="188"/><use href="#G1" x="240"/><use href="#G1" x="292"/><use href="#G1" x="344"/><use href="#W1" x="396"/><use href="#Y1" x="448"/><use href="#W1" x="500"/></g>
<g id="row-44" transform="translate(0,2298)"><use href="#RU2"/><use href="#D2" x="136"/><use href="#G2" x="188"/><use href="#W2" x="448"/></g>
<g id="row-45" transform="translate(0,2350)"><use href="#RU1"/><use href="#D1" x="188"/><use href="#G1" x="240"/></g>
<g id="row-46" transform="translate(0,2402)"><use href="#RU2"/><use href="#W2" x="344"/></g>
<g id="row-47" transform="translate(0,2454)"><use href="#RU1"/><use href="#G1" x="84"/><use href="#G1" x="136"/><use href="#G1" x="188"/><use href="#G1" x="240"/><use href="#W1" x="292"/><use href="#Y1" x="344"/><use href="#W1" x="396"/></g>
<g id="row-48" transform="translate(0,2506)"><use href="#RU2"/><use href="#G2" x="188"/><use href="#W2" x="344"/></g>
<g id="row-49" transform="translate(0,2558)"><use href="#RU1"/></g>
</g>

<text x="371" y="1340" text-anchor="middle" font-family="Liberation Sans, Arial, sans-serif" font-weight="bold" font-size="14" fill="#333" stroke="#fff" stroke-width="3" paint-order="stroke">BRACELETBOOK.COM</text>
</svg>
